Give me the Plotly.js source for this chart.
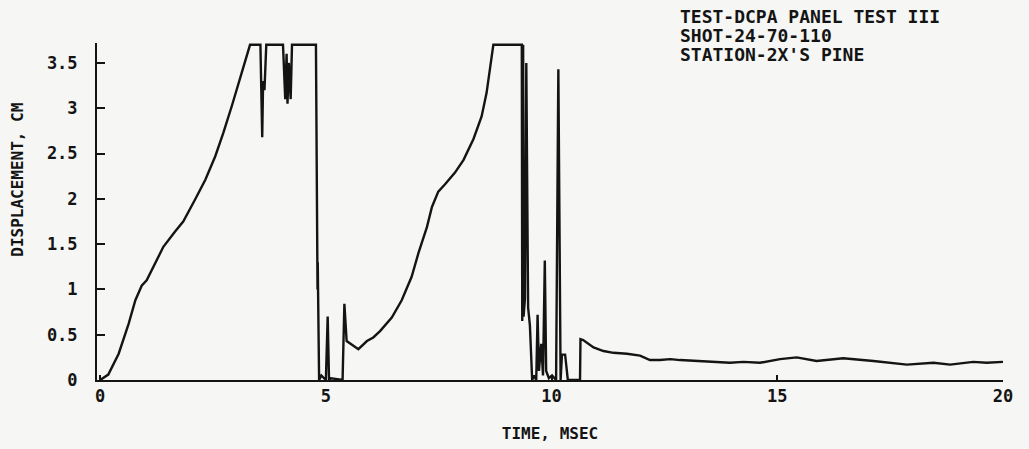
<!DOCTYPE html>
<html>
<head>
<meta charset="utf-8">
<script src="https://cdn.plot.ly/plotly-3.0.1.min.js"></script>
<style>
  html, body { margin: 0; padding: 0; background: #f6f6f4; }
  #chart { width: 1029px; height: 449px; }
</style>
</head>
<body>
<div id="chart"></div>
<script>
// Time (ms) and displacement (cm)
const timeMs = [
  0, 0.18, 0.41, 0.63, 0.78, 0.92, 1.03, 1.22, 1.40, 1.66, 1.84, 2.10, 2.33, 2.55, 2.73, 2.92, 3.14, 3.32,
  3.55, 3.57, 3.59, 3.61, 3.64, 3.68, 4.05, 4.10, 4.13, 4.15, 4.18, 4.22, 4.25, 4.78,
  4.80, 4.805, 4.81, 4.815, 4.82, 4.825, 4.85, 4.90, 5.00, 5.04, 5.07, 5.11, 5.37, 5.41, 5.46,
  5.72, 5.91, 6.05, 6.20, 6.46, 6.68, 6.90, 7.05, 7.24, 7.35, 7.49, 7.64, 7.86, 8.05, 8.27, 8.45, 8.56, 8.64, 8.71,
  9.34, 9.35, 9.37, 9.38, 9.41, 9.44, 9.48, 9.52, 9.57, 9.61, 9.66, 9.69, 9.72, 9.77, 9.81, 9.85, 9.88, 9.94, 10.01,
  10.10, 10.15, 10.20, 10.23, 10.30, 10.36, 10.63, 10.64,
  10.70, 10.93, 11.15, 11.37, 11.67, 11.96, 12.18, 12.40, 12.63, 12.85, 13.14, 13.51, 13.95, 14.25, 14.62,
  15.06, 15.43, 15.87, 16.46, 17.13, 17.87, 18.46, 18.83, 19.34, 19.64, 20.0
];
const displacementCm = [
  0, 0.06, 0.29, 0.62, 0.88, 1.04, 1.10, 1.29, 1.47, 1.64, 1.75, 1.99, 2.21, 2.47, 2.73, 3.03, 3.40, 3.70,
  3.70, 3.30, 2.68, 3.30, 3.20, 3.70, 3.70, 3.10, 3.60, 3.05, 3.50, 3.10, 3.70, 3.70,
  1.37, 1.00, 1.35, 1.00, 1.30, 1.05, 0, 0.05, 0, 0.70, 0, 0.02, 0, 0.84, 0.43,
  0.34, 0.43, 0.47, 0.54, 0.69, 0.88, 1.14, 1.40, 1.69, 1.91, 2.08, 2.16, 2.29, 2.43, 2.66, 2.91, 3.17, 3.47, 3.70,
  3.70, 0.65, 3.70, 0.70, 0.90, 3.50, 0.80, 0.60, 0, 0.05, 0, 0.72, 0.10, 0.40, 0.05, 1.32, 0.10, 0.02, 0.05,
  0, 3.43, 0, 0.28, 0.28, 0, 0, 0.45,
  0.44, 0.36, 0.32, 0.30, 0.29, 0.27, 0.22, 0.22, 0.23, 0.22, 0.21, 0.20, 0.19, 0.20, 0.19,
  0.23, 0.25, 0.21, 0.24, 0.21, 0.17, 0.19, 0.17, 0.20, 0.19, 0.20
];
const xTickVals = [0, 5, 10, 15, 20];
const xTickText = ['0', '5', '10', '15', '20'];
const yTickVals = [0, 0.5, 1, 1.5, 2, 2.5, 3, 3.5];
const yTickText = ['0', '0.5', '1', '1.5', '2', '2.5', '3', '3.5'];
const headerLines = ['TEST-DCPA PANEL TEST III', 'SHOT-24-70-110', "STATION-2X'S PINE"];

const ink = '#141414';
const fontFam = '"DejaVu Sans Mono", monospace';

const trace = {
  x: timeMs,
  y: displacementCm,
  type: 'scatter',
  mode: 'lines',
  line: { color: ink, width: 2.4 },
  hoverinfo: 'skip'
};

const headerY = [1.078, 1.022, 0.966];
const annotations = headerLines.map((t, i) => ({
  text: t, xref: 'paper', yref: 'paper', x: 0.641, y: headerY[i],
  xanchor: 'left', yanchor: 'middle', showarrow: false,
  font: { family: fontFam, size: 18, color: ink, weight: 'bold' }
}));
annotations.push({
  text: 'DISPLACEMENT, CM', xref: 'paper', yref: 'paper', x: -0.088, y: 0.595,
  textangle: -90, xanchor: 'center', yanchor: 'middle', showarrow: false,
  font: { family: fontFam, size: 16, color: ink, weight: 'bold' }
});

const layout = {
  width: 1029, height: 449,
  margin: { l: 97, r: 26, t: 43, b: 69 },
  paper_bgcolor: '#f6f6f4',
  plot_bgcolor: '#f6f6f4',
  showlegend: false,
  font: { family: fontFam, size: 16, color: ink, weight: 'bold' },
  xaxis: {
    range: [-0.07, 20],
    tickvals: xTickVals, ticktext: xTickText,
    ticks: 'inside', ticklen: 5, tickwidth: 2, tickcolor: ink,
    showline: true, linecolor: ink, linewidth: 2,
    showgrid: false, zeroline: false,
    tickfont: { family: fontFam, size: 17, color: ink, weight: 'bold' },
    title: { text: 'TIME, MSEC', standoff: 22, font: { family: fontFam, size: 16, color: ink, weight: 'bold' } }
  },
  yaxis: {
    range: [0, 3.72],
    tickvals: yTickVals, ticktext: yTickText,
    ticks: 'inside', ticklen: 8, tickwidth: 2, tickcolor: ink,
    ticklabelstandoff: 14,
    showline: true, linecolor: ink, linewidth: 2,
    showgrid: false, zeroline: false,
    tickfont: { family: fontFam, size: 17, color: ink, weight: 'bold' }
  },
  annotations: annotations
};

Plotly.newPlot('chart', [trace], layout, { staticPlot: true, displayModeBar: false });
</script>
</body>
</html>
